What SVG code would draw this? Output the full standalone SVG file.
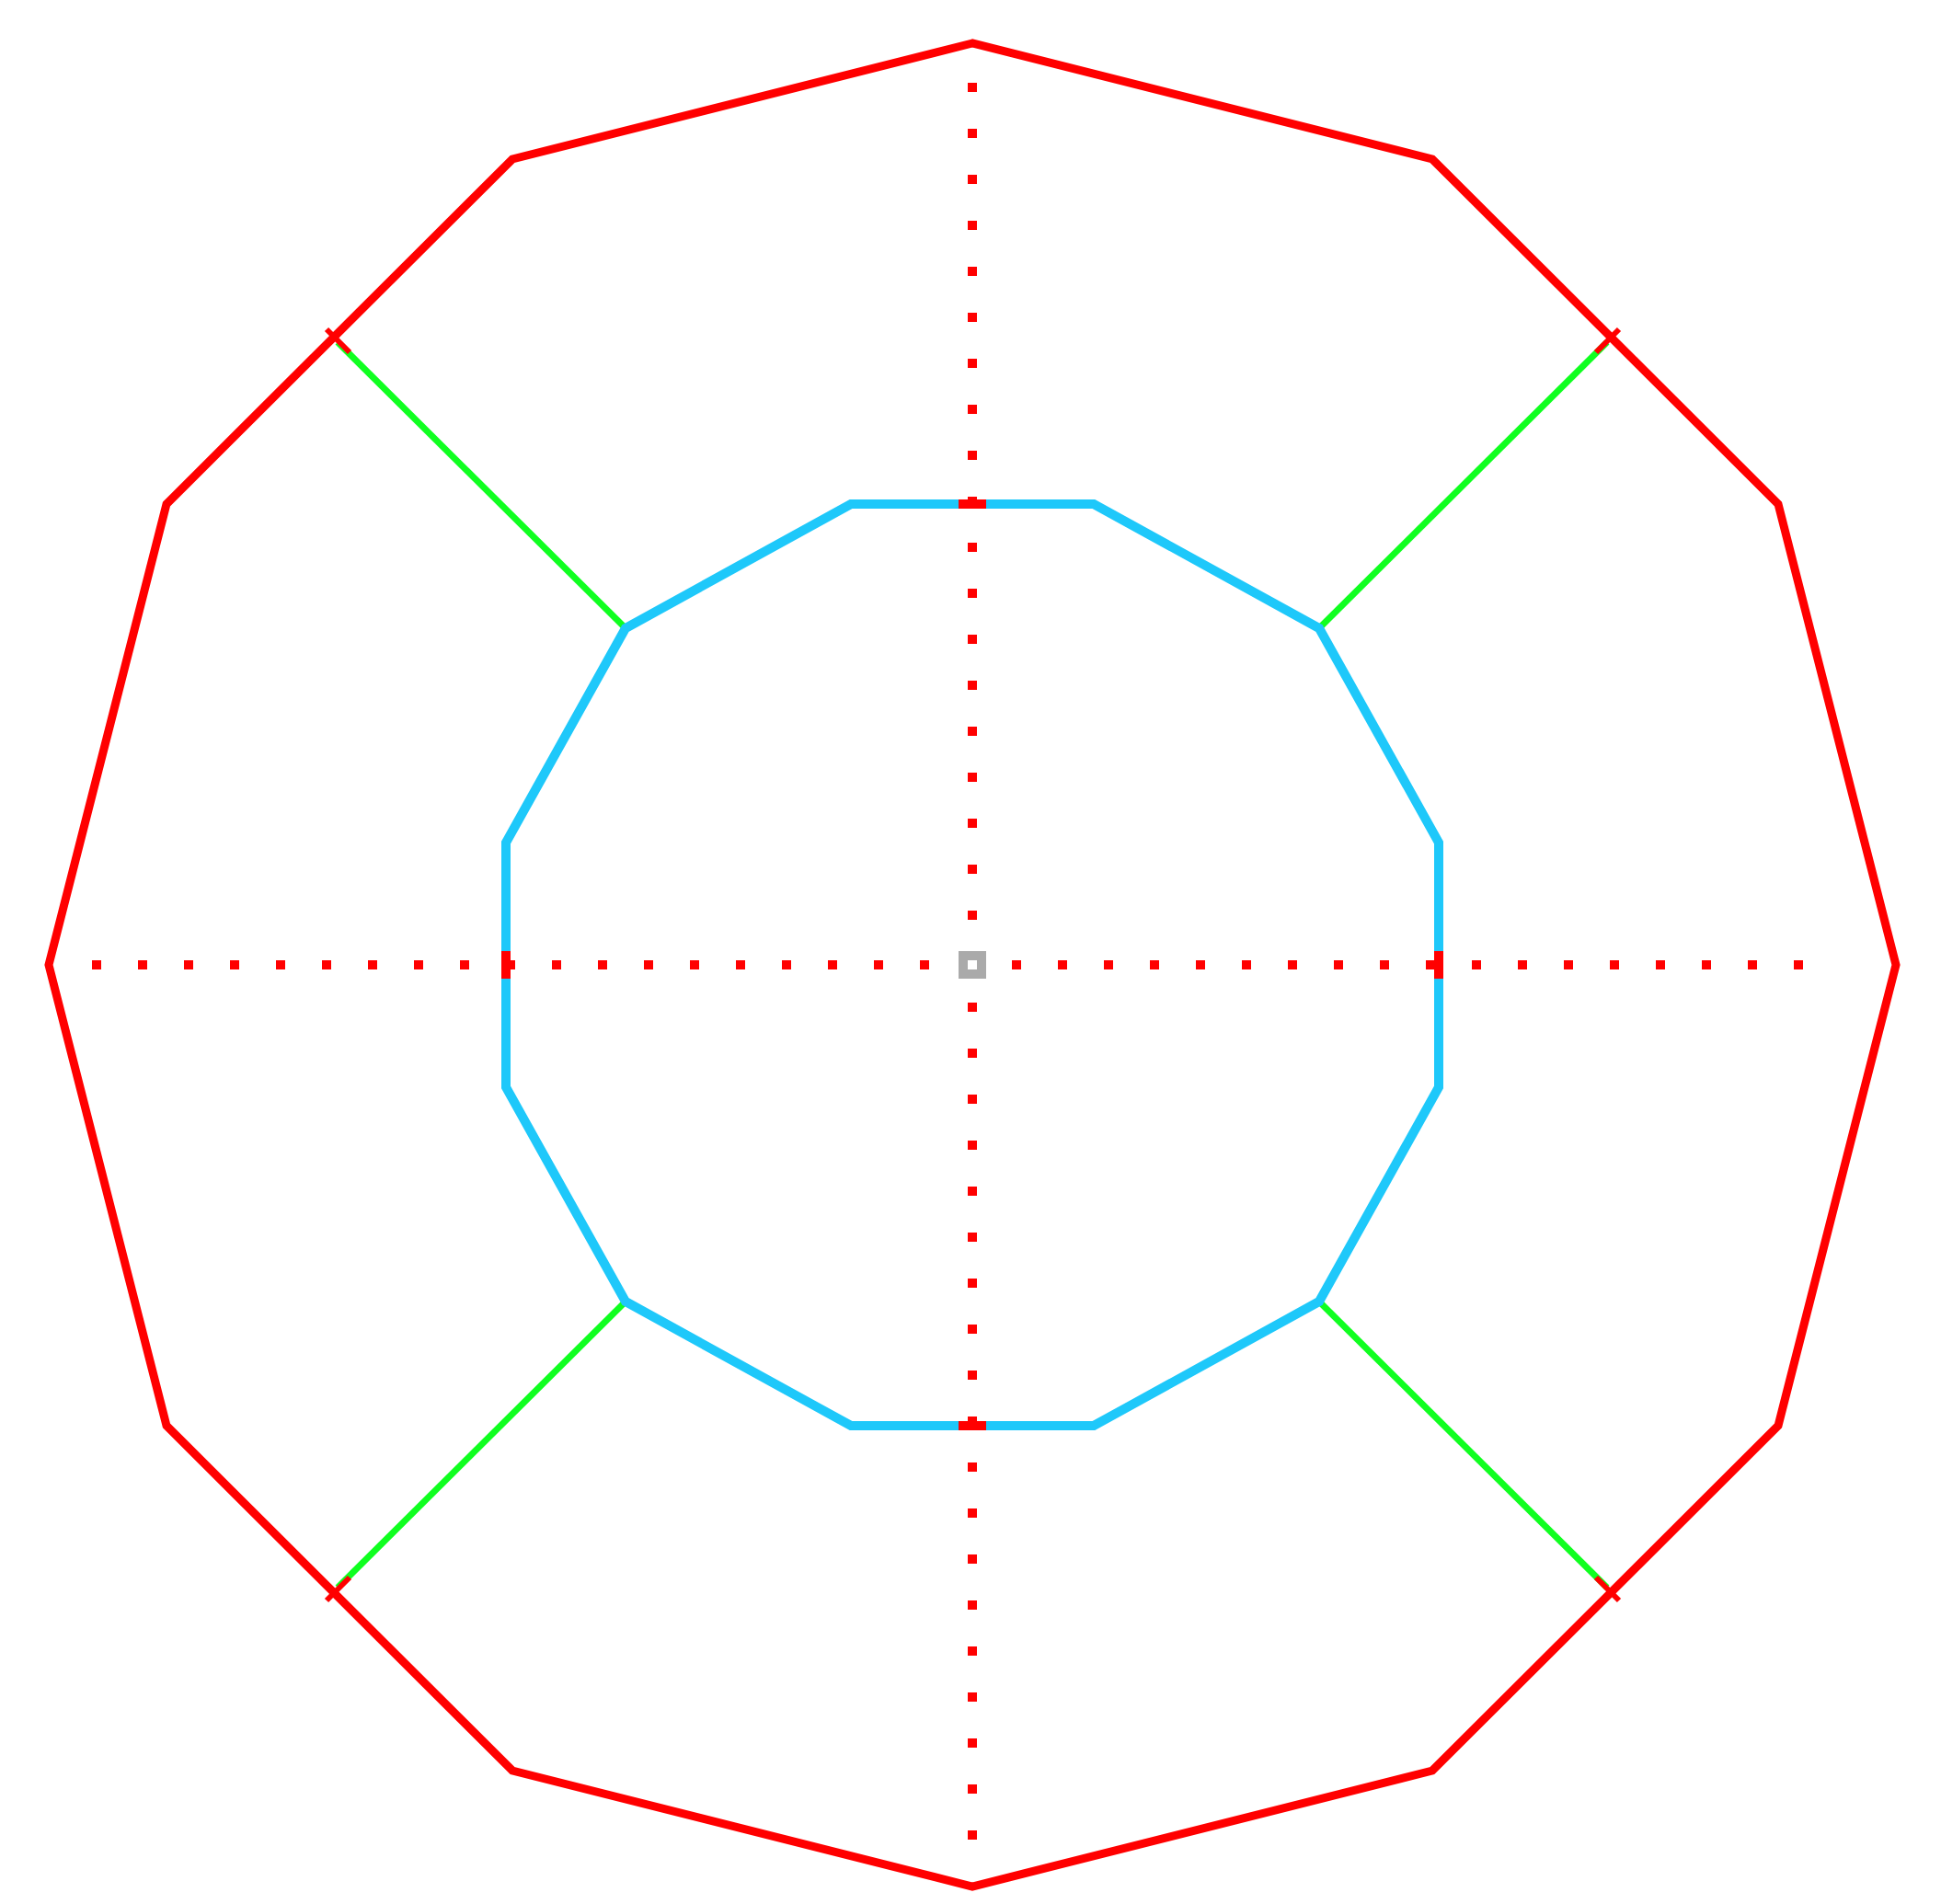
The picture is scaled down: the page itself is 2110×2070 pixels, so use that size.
<svg xmlns="http://www.w3.org/2000/svg" width="2110" height="2070" viewBox="0 0 2110 2070">
<style>
.outer{fill:none;stroke:#ff0000;stroke-width:9;stroke-linejoin:miter}
.inner{fill:none;stroke:#1ec8fa;stroke-width:10}
.green{stroke:#10ff20;stroke-width:7}
.axis{stroke:#ff0000;stroke-width:10;stroke-dasharray:10 40}
.mark{stroke:#ff0000;stroke-width:10}
</style>
<rect width="2110" height="2070" fill="#fff"/>
<g id="connectors">
<line class="axis" x1="1057" y1="90" x2="1057" y2="2020"/>
<line class="axis" x1="100" y1="1049" x2="1990" y2="1049"/>
<line class="green" x1="680" y1="683" x2="367" y2="372"/>
<line class="green" x1="1434" y1="683" x2="1747" y2="372"/>
<line class="green" x1="1434" y1="1415" x2="1747" y2="1726"/>
<line class="green" x1="680" y1="1415" x2="367" y2="1726"/>
</g>
<g id="outer">
<polygon class="outer" points="1057,47 557,173 181,548 53,1049 181,1550 557,1925 1057,2051 1557,1925 1933,1550 2061,1049 1933,548 1557,173"/>
<g stroke="#ff0000" stroke-width="6">
<line x1="355" y1="358" x2="380" y2="383"/><line x1="1760" y1="358" x2="1735" y2="383"/>
<line x1="355" y1="1740" x2="380" y2="1715"/><line x1="1760" y1="1740" x2="1735" y2="1715"/>
</g>
</g>
<g id="inner">
<polygon class="inner" points="925,548 1189,548 1434,683 1564,916 1564,1182 1434,1415 1189,1550 925,1550 680,1415 550,1182 550,916 680,683"/>
<line class="mark" x1="1042" y1="548" x2="1072" y2="548"/>
<line class="mark" x1="1042" y1="1550" x2="1072" y2="1550"/>
<line class="mark" x1="550" y1="1034" x2="550" y2="1064"/>
<line class="mark" x1="1564" y1="1034" x2="1564" y2="1064"/>
</g>
<g id="center">
<rect x="1047" y="1039" width="20" height="20" fill="#fff" stroke="#aaaaaa" stroke-width="10"/>
</g>
</svg>
